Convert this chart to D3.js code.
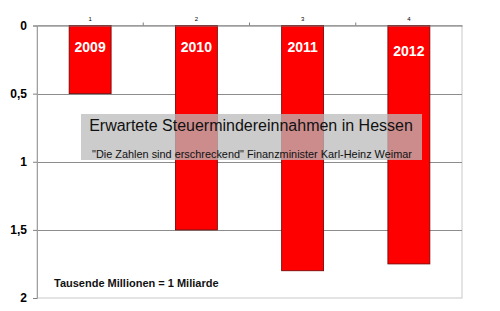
<!DOCTYPE html>
<html><head><meta charset="utf-8">
<script src="https://cdn.jsdelivr.net/npm/d3@7"></script>
<style>body{margin:0;background:#fff}svg{display:block;font-family:Arial,"Liberation Sans",sans-serif}</style>
</head><body><svg id="c" width="500" height="311"></svg>
<script>
const categories = ["1","2","3","4"];
const years = ["2009","2010","2011","2012"];
const values = [0.5, 1.5, 1.8, 1.75];
const yTicks = [0, 0.5, 1, 1.5, 2];
const yTickLabels = ["0","0,5","1","1,5","2"];
const title = "Erwartete Steuermindereinnahmen in Hessen";
const subtitle = "\"Die Zahlen sind erschreckend\" Finanzminister Karl-Heinz Weimar";
const note = "Tausende Millionen = 1 Miliarde";

const svg = d3.select("#c");
const L = 37, R = 462, T = 25.5, B = 298;
const x = d3.scaleBand().domain(categories).range([L, R]).paddingInner(0.605).paddingOuter(0.3025);
const xb = d3.scaleBand().domain(categories).range([L, R]);
const y = d3.scaleLinear().domain([0, 2]).range([T, B]);

// plot border (light)
svg.append("rect").attr("x", L).attr("y", T).attr("width", R - L).attr("height", B - T)
  .attr("fill", "none").attr("stroke", "#c8c8c8").attr("stroke-width", 1);

// gridlines
svg.append("g").selectAll("line").data(yTicks.filter(d => d > 0 && d < 2)).join("line")
  .attr("x1", L).attr("x2", R).attr("y1", d => Math.round(y(d)) + 0.5).attr("y2", d => Math.round(y(d)) + 0.5)
  .attr("stroke", "#8c8c8c").attr("stroke-width", 1.2);

// left axis
const yAxis = d3.axisLeft(y).tickValues(yTicks).tickFormat((d, i) => yTickLabels[i]).tickSize(4).tickPadding(6);
const gy = svg.append("g").attr("transform", `translate(${L},0)`).call(yAxis);
gy.select(".domain").attr("stroke", "#a0a0a0");
gy.selectAll(".tick line").attr("stroke", "#808080");
gy.selectAll("text").attr("font-size", 12).attr("font-weight", "bold").attr("fill", "#000")
  .attr("font-family", "Arial, 'Liberation Sans', sans-serif");

// bars
svg.append("g").selectAll("rect").data(values).join("rect")
  .attr("x", (d, i) => x(categories[i])).attr("y", y(0))
  .attr("width", x.bandwidth()).attr("height", d => y(d) - y(0))
  .attr("fill", "#ff0000").attr("stroke", "#6a0000").attr("stroke-width", 0.8);

// year labels
const yearOffsets = [0.16, 0.16, 0.16, 0.19];
svg.append("g").selectAll("text").data(years).join("text")
  .attr("x", (d, i) => x(categories[i]) + x.bandwidth() / 2)
  .attr("y", (d, i) => y(yearOffsets[i]) + 5)
  .attr("text-anchor", "middle").attr("fill", "#fff").attr("font-weight", "bold").attr("font-size", 14)
  .text(d => d);

// top axis
const xAxis = d3.axisTop(xb).tickSize(0).tickPadding(5);
const gx = svg.append("g").attr("transform", `translate(0,${T})`).call(xAxis);
gx.select(".domain").attr("stroke", "#707070").attr("stroke-width", 1.2);
gx.selectAll("text").attr("font-size", 6).attr("fill", "#000");
svg.append("g").selectAll("line").data(categories.slice(1)).join("line")
  .attr("x1", d => xb(d)).attr("x2", d => xb(d)).attr("y1", T).attr("y2", T - 3)
  .attr("stroke", "#808080");

// overlay box
svg.append("rect").attr("x", 81).attr("y", 114).attr("width", 341).attr("height", 46)
  .attr("fill", "rgb(187,187,187)").attr("fill-opacity", 0.75);
svg.append("text").attr("x", 251).attr("y", 131).attr("text-anchor", "middle")
  .attr("font-size", 16).attr("fill", "#111").text(title);
svg.append("text").attr("x", 252).attr("y", 158).attr("text-anchor", "middle")
  .attr("font-size", 10.9).attr("fill", "#111").text(subtitle);

// note
svg.append("text").attr("x", 54).attr("y", 287).attr("font-size", 11).attr("font-weight", "bold")
  .attr("fill", "#111").text(note);
</script></body></html>
